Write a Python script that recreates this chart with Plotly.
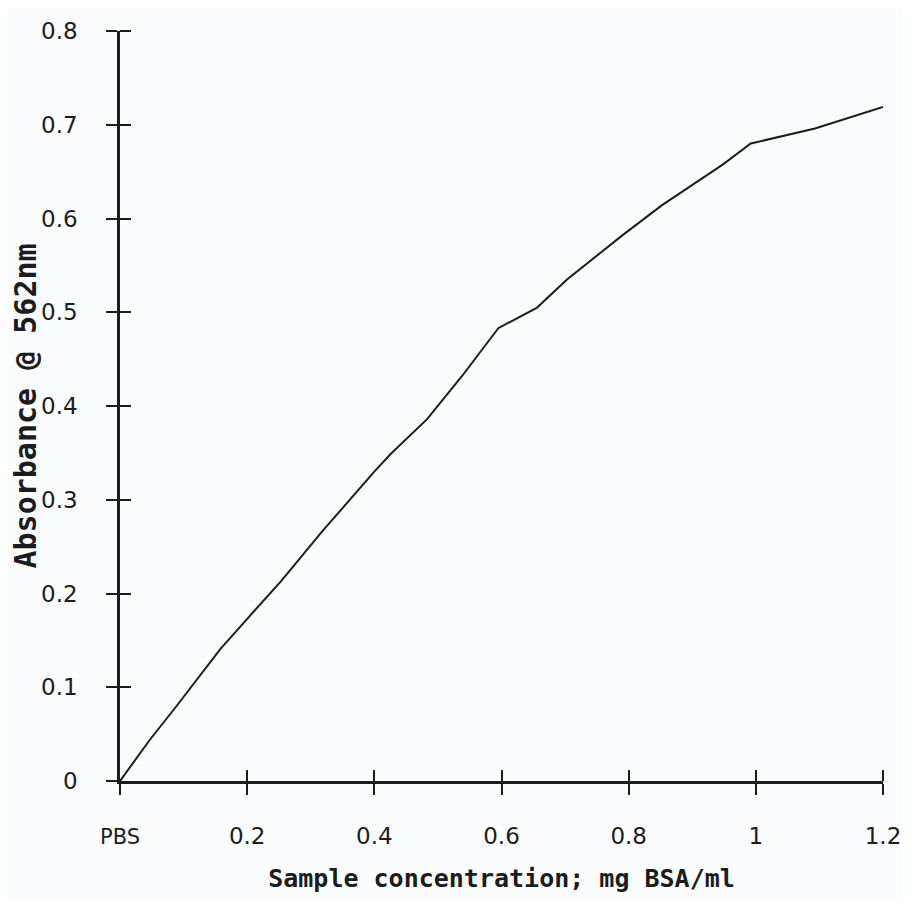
import plotly.graph_objects as go

# Values (concentration in mg BSA/ml, absorbance)
concentration = [0.0, 0.047, 0.089, 0.158, 0.253, 0.319, 0.400, 0.426, 0.483,
                 0.538, 0.595, 0.656, 0.703, 0.790, 0.852, 0.887, 0.949, 0.992,
                 1.093, 1.200]
absorbance = [0.0, 0.044, 0.080, 0.141, 0.213, 0.267, 0.330, 0.349, 0.386,
              0.432, 0.483, 0.505, 0.535, 0.582, 0.614, 0.630, 0.658, 0.680,
              0.696, 0.719]

x_tick_vals = [0, 0.2, 0.4, 0.6, 0.8, 1.0, 1.2]
x_tick_text = ["<span style='font-size:21px'>PBS</span>", "0.2", "0.4", "0.6",
               "0.8", "1", "1.2"]
y_tick_vals = [0, 0.1, 0.2, 0.3, 0.4, 0.5, 0.6, 0.7, 0.8]
y_tick_text = ["0", "0.1", "0.2", "0.3", "0.4", "0.5", "0.6", "0.7", "0.8"]

x_range = [0, 1.2]
y_range = [0, 0.8]

ink = "#1c1c1c"

# layout geometry (pixels)
W, H = 895, 890
ML, MR, MT, MB = 112, 10, 13, 117
EXTRA = 10  # room so the inner half of the last ticks is not dropped
plot_w = W - ML - MR
plot_h = H - MT - MB
x_dom = (plot_w - EXTRA) / plot_w
y_dom = (plot_h - EXTRA) / plot_h

fig = go.Figure()
fig.add_trace(go.Scatter(x=concentration, y=absorbance, mode="lines",
                         line=dict(color=ink, width=2), hoverinfo="skip",
                         showlegend=False))
# helper subplot sharing the same scale, used only for the inner half of ticks
fig.add_trace(go.Scatter(x=concentration, y=absorbance, mode="lines",
                         line=dict(color=ink, width=2), opacity=0,
                         hoverinfo="skip", showlegend=False,
                         xaxis="x2", yaxis="y2"))

tick_font = dict(family="DejaVu Sans", size=23, color=ink)
clear = "rgba(0,0,0,0)"

fig.update_layout(
    width=W, height=H,
    margin=dict(l=ML, r=MR, t=MT, b=MB, autoexpand=False),
    paper_bgcolor="#fbfcfd", plot_bgcolor=clear,
    xaxis=dict(range=x_range, domain=[0, x_dom], anchor="y", automargin=False,
               tickvals=x_tick_vals, ticktext=x_tick_text,
               ticks="outside", ticklen=11, tickwidth=2, tickcolor=ink,
               showline=True, linewidth=2.5, linecolor=ink,
               showgrid=False, zeroline=False, tickfont=tick_font,
               ticklabelstandoff=22, ticklabeloverflow="allow",
               title=dict(text="<b>Sample concentration; mg BSA/ml</b>",
                          font=dict(family="DejaVu Sans Mono", size=25, color=ink),
                          standoff=22)),
    yaxis=dict(range=y_range, domain=[0, y_dom], anchor="x", automargin=False,
               tickvals=y_tick_vals, ticktext=y_tick_text,
               ticks="outside", ticklen=11, tickwidth=2, tickcolor=ink,
               showline=True, linewidth=2.5, linecolor=ink,
               showgrid=False, zeroline=False, tickfont=tick_font,
               ticklabelstandoff=24, ticklabeloverflow="allow",
               title=dict(text="<b>Absorbance @ 562nm</b>",
                          font=dict(family="DejaVu Sans Mono", size=30, color=ink),
                          standoff=8)),
    xaxis2=dict(range=[x_range[0], x_range[1] / x_dom], domain=[0, 1],
                anchor="y2", side="bottom", automargin=False,
                tickmode="array", tickvals=x_tick_vals, ticks="inside",
                ticklen=11, tickwidth=2, tickcolor=ink, showticklabels=False,
                showline=True, linecolor=clear, showgrid=False, zeroline=False),
    yaxis2=dict(range=[y_range[0], y_range[1] / y_dom], domain=[0, 1],
                anchor="x2", side="left", automargin=False,
                tickmode="array", tickvals=y_tick_vals, ticks="inside",
                ticklen=11, tickwidth=2, tickcolor=ink, showticklabels=False,
                showline=True, linecolor=clear, showgrid=False, zeroline=False),
)

fig.write_html("out.html")
